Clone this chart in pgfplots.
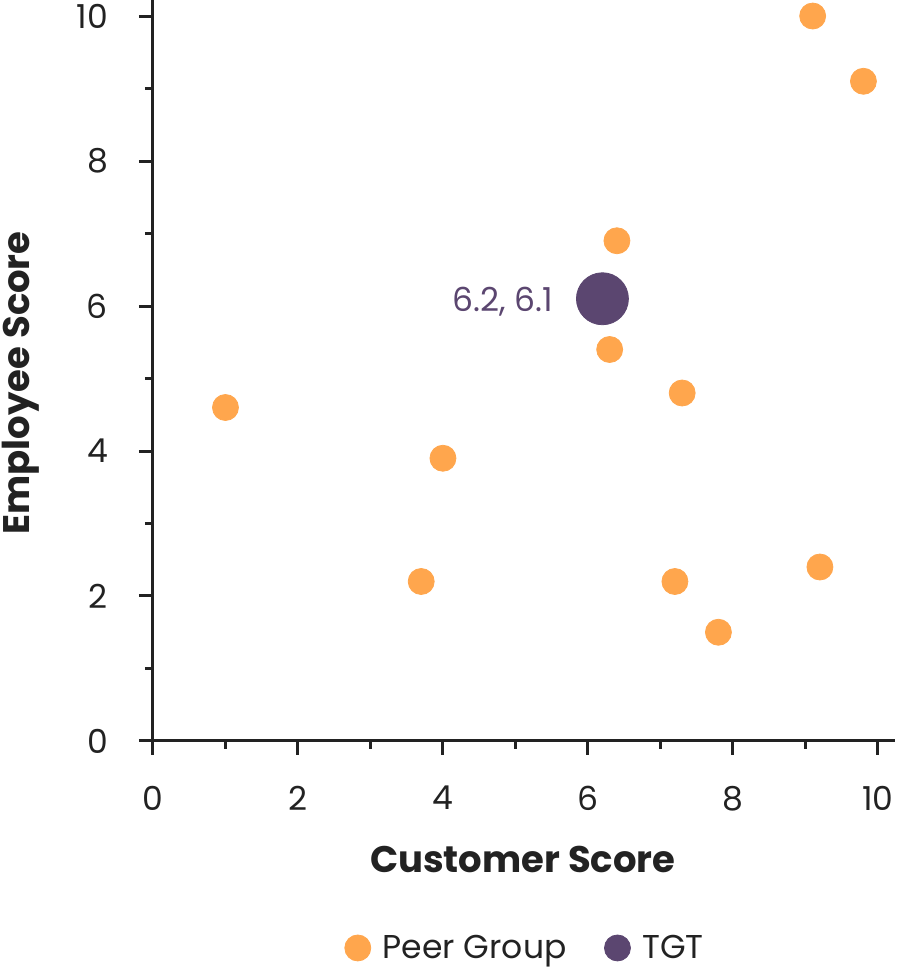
\documentclass[border=0pt]{standalone}
\usepackage{fontspec}
\setmainfont{Poppins}
\usepackage{pgfplots}
\pgfplotsset{compat=1.18}
\definecolor{peer}{HTML}{FFA64D}
\definecolor{tgt}{HTML}{5B4670}
\definecolor{axc}{HTML}{222222}
\begin{document}
\begin{tikzpicture}
\begin{axis}[
 width=362.5pt, height=362.5pt, scale only axis,
 xmin=0, xmax=10, ymin=0, ymax=10,
 axis lines=left,
 axis line style={axc, line width=1.5pt, -, shorten >=-8.5pt},
 xtick={0,2,...,10}, ytick={0,2,...,10},
 minor xtick={1,3,...,9}, minor ytick={1,3,...,9},
 tick align=outside, major tick length=7pt, minor tick length=4pt,
 tick style={axc, line width=1.5pt},
 ticklabel style={font=\fontsize{16.5}{18}\selectfont, text=axc},
 xticklabel style={yshift=-12pt},
 yticklabel style={xshift=-12pt},
 /pgf/number format/assume math mode=true,
 clip=false,
 xlabel={Customer Score}, ylabel={Employee Score},
 label style={font=\fontsize{18.5}{22}\selectfont\bfseries, text=axc},
 xlabel style={at={(axis description cs:0.51,-0.164)}, anchor=center},
 ylabel style={at={(axis description cs:-0.183,0.494)}, anchor=center},
 legend columns=2,
 legend style={draw=none, fill=none, at={(0.515,-0.2855)}, anchor=center,
   font=\fontsize{16.5}{18}\selectfont, text=axc,
   /tikz/every odd column/.append style={column sep=4pt},
   /tikz/every even column/.append style={column sep=17pt}},
]
\addlegendimage{only marks, mark=*, mark size=6.5pt, color=peer}
\addlegendentry{Peer Group}
\addlegendimage{only marks, mark=*, mark size=6.5pt, color=tgt}
\addlegendentry{TGT}
\addplot[only marks, mark=*, mark size=6.5pt, color=peer, forget plot] coordinates {
 (1.0,4.6) (3.7,2.2) (4.0,3.9) (6.3,5.4) (6.4,6.9) (7.2,2.2)
 (7.3,4.8) (7.8,1.5) (9.1,10.0) (9.2,2.4) (9.8,9.1)
};
\addplot[only marks, mark=*, mark size=13pt, color=tgt, forget plot,
 nodes near coords={6.2, 6.1},
 every node near coord/.append style={anchor=east, xshift=-21pt, yshift=-1.5pt, text=tgt, font=\fontsize{16.5}{18}\selectfont}] coordinates {
 (6.2,6.1)
};
\coordinate (bl) at (axis cs:-2.110,-3.297);
\coordinate (tr) at (axis cs:10.303,10.221);
\end{axis}
\pgfresetboundingbox
\path[use as bounding box] (bl) rectangle (tr);
\end{tikzpicture}
\end{document}
